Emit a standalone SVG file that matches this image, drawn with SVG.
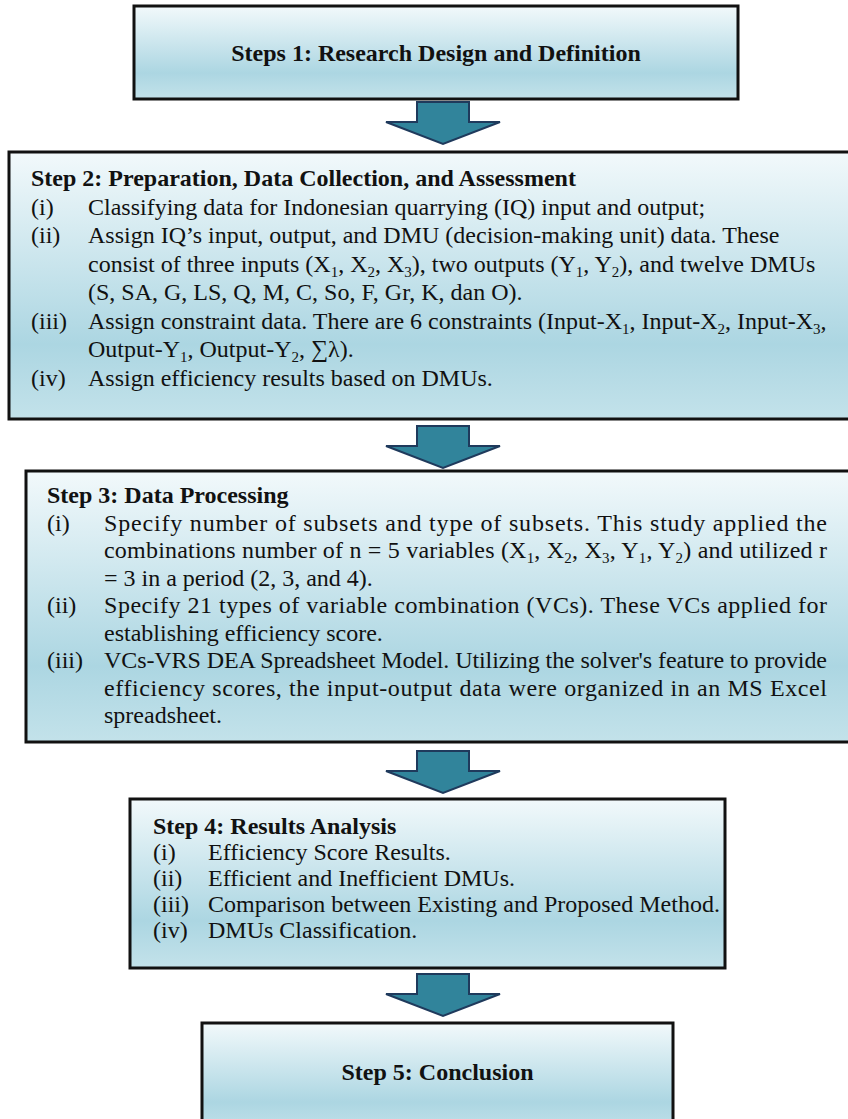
<svg xmlns="http://www.w3.org/2000/svg" width="848" height="1119" viewBox="0 0 848 1119">
<style>
.box{fill:url(#bg);stroke:#111;stroke-width:3}
.t{font-family:"Liberation Serif","Times New Roman",serif;font-size:24px;fill:#111}
.b{font-weight:bold}
.sb{font-size:15px;baseline-shift:-5px}
.arr{fill:#31849b;stroke:#1f3a5c;stroke-width:2;stroke-linejoin:miter}
</style>
<defs>
<linearGradient id="bg" x1="0" y1="0" x2="0" y2="1">
<stop offset="0" stop-color="#f2f9fb"/>
<stop offset="0.72" stop-color="#acd6e2"/>
<stop offset="1" stop-color="#c3e2ea"/>
</linearGradient>
<path id="ar" d="M417,0 H469 V20 H500 L443,42 L386,20 H417 Z"/>
</defs>
<g id="connectors">
<use href="#ar" class="arr" transform="translate(0,102)"/>
<use href="#ar" class="arr" transform="translate(0,426)"/>
<use href="#ar" class="arr" transform="translate(0,751)"/>
<use href="#ar" class="arr" transform="translate(0,974)"/>
</g>
<g id="step1">
<rect class="box" x="134" y="6" width="604" height="93"/>
<text class="t b" x="436" y="61" text-anchor="middle">Steps 1: Research Design and Definition</text>
</g>
<g id="step2">
<rect class="box" x="9" y="152" width="850" height="267"/>
<text class="t b" x="31" y="186">Step 2: Preparation, Data Collection, and Assessment</text>
<text class="t" x="31" y="214.5">(i)</text>
<text class="t" x="88" y="214.5">Classifying data for Indonesian quarrying (IQ) input and output;</text>
<text class="t" x="31" y="243">(ii)</text>
<text class="t" x="88" y="243">Assign IQ’s input, output, and DMU (decision-making unit) data. These</text>
<text class="t" x="88" y="271.5">consist of three inputs (X<tspan class="sb">1</tspan>, X<tspan class="sb">2</tspan>, X<tspan class="sb">3</tspan>), two outputs (Y<tspan class="sb">1</tspan>, Y<tspan class="sb">2</tspan>), and twelve DMUs</text>
<text class="t" x="88" y="300">(S, SA, G, LS, Q, M, C, So, F, Gr, K, dan O).</text>
<text class="t" x="31" y="328.5">(iii)</text>
<text class="t" x="88" y="328.5">Assign constraint data. There are 6 constraints (Input-X<tspan class="sb">1</tspan>, Input-X<tspan class="sb">2</tspan>, Input-X<tspan class="sb">3</tspan>,</text>
<text class="t" x="88" y="357">Output-Y<tspan class="sb">1</tspan>, Output-Y<tspan class="sb">2</tspan>, ∑λ).</text>
<text class="t" x="31" y="385.5">(iv)</text>
<text class="t" x="88" y="385.5">Assign efficiency results based on DMUs.</text>
</g>
<g id="step3">
<rect class="box" x="26" y="471" width="840" height="271"/>
<text class="t b" x="47" y="503">Step 3: Data Processing</text>
<text class="t" x="47" y="530.5">(i)</text>
<text class="t" x="104" y="530.5" textLength="723" lengthAdjust="spacing">Specify number of subsets and type of subsets. This study applied the</text>
<text class="t" x="104" y="558" textLength="723" lengthAdjust="spacing">combinations number of n = 5 variables (X<tspan class="sb">1</tspan>, X<tspan class="sb">2</tspan>, X<tspan class="sb">3</tspan>, Y<tspan class="sb">1</tspan>, Y<tspan class="sb">2</tspan>) and utilized r</text>
<text class="t" x="104" y="585.5">= 3 in a period (2, 3, and 4).</text>
<text class="t" x="47" y="613">(ii)</text>
<text class="t" x="104" y="613" textLength="723" lengthAdjust="spacing">Specify 21 types of variable combination (VCs). These VCs applied for</text>
<text class="t" x="104" y="640.5">establishing efficiency score.</text>
<text class="t" x="47" y="668">(iii)</text>
<text class="t" x="104" y="668" textLength="723" lengthAdjust="spacing">VCs-VRS DEA Spreadsheet Model. Utilizing the solver's feature to provide</text>
<text class="t" x="104" y="695.5" textLength="723" lengthAdjust="spacing">efficiency scores, the input-output data were organized in an MS Excel</text>
<text class="t" x="104" y="723">spreadsheet.</text>
</g>
<g id="step4">
<rect class="box" x="130" y="799" width="595" height="169"/>
<text class="t b" x="153" y="834">Step 4: Results Analysis</text>
<text class="t" x="153" y="860">(i)</text>
<text class="t" x="208" y="860">Efficiency Score Results.</text>
<text class="t" x="153" y="886">(ii)</text>
<text class="t" x="208" y="886">Efficient and Inefficient DMUs.</text>
<text class="t" x="153" y="912">(iii)</text>
<text class="t" x="208" y="912">Comparison between Existing and Proposed Method.</text>
<text class="t" x="153" y="938">(iv)</text>
<text class="t" x="208" y="938">DMUs Classification.</text>
</g>
<g id="step5">
<rect class="box" x="202" y="1023" width="471" height="110"/>
<text class="t b" x="437.5" y="1080" text-anchor="middle">Step 5: Conclusion</text>
</g>
</svg>
